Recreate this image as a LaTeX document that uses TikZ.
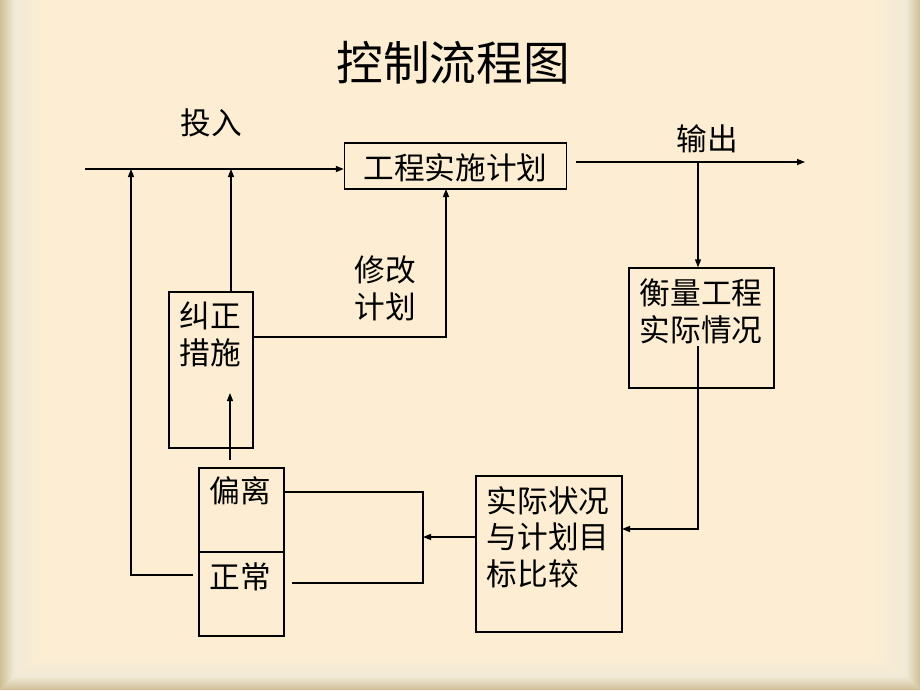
\documentclass[tikz,border=0pt]{standalone}
\usepackage{fontspec}
\setmainfont{Noto Sans CJK SC}
\usetikzlibrary{arrows.meta}
\definecolor{bg}{HTML}{FDEED3}
\definecolor{edgedark}{HTML}{D0BF97}
\definecolor{edgelight}{HTML}{F1EAD6}
\begin{document}
\begin{tikzpicture}[x=0.75pt,y=-0.75pt,
  line width=1pt,
  arr/.style={-{Triangle[length=6pt,width=4.5pt]}},
  box/.style={draw=black,line width=1pt,inner sep=0pt},
  txt/.style={inner sep=0pt,font=\fontsize{23}{27.5}\selectfont},
  ]
% background with bevelled edges
\fill[bg] (0,0) rectangle (920,690);
\shade[left color=edgelight,right color=bg] (14,0) -- (45,0) -- (45,655) -- (14,676) -- cycle;
\shade[right color=edgelight,left color=bg] (906,0) -- (870,0) -- (870,655) -- (906,676) -- cycle;
\shade[bottom color=edgelight,top color=bg] (14,676) -- (45,655) -- (870,655) -- (906,676) -- cycle;
\shade[left color=edgedark,right color=edgelight] (0,0) -- (14,0) -- (14,676) -- (0,690) -- cycle;
\shade[right color=edgedark,left color=edgelight] (920,0) -- (906,0) -- (906,676) -- (920,690) -- cycle;
\shade[bottom color=edgedark,top color=edgelight] (0,690) -- (14,676) -- (906,676) -- (920,690) -- cycle;
\useasboundingbox (0,0) rectangle (920,690);

% title and labels
\node[inner sep=0pt,font=\fontsize{35}{40}\selectfont] (title) at (453,63) {控制流程图};
\node[txt] (inLbl) at (211,123) {投入};
\node[txt] (outLbl) at (707,139) {输出};
\node[txt,align=center] (modLbl) at (385,288.5) {修改\\计划};

% boxes (sizes in pt = px * 0.75)
\node[box,minimum width=166.5pt,minimum height=34.5pt] (plan) at (455.5,166) {};
\node[txt] (planT) at (455.5,168) {工程实施计划};

\node[box,minimum width=108.75pt,minimum height=90pt] (measure) at (701.5,328) {};
\node[txt,align=center] (measureT) at (701,311.5) {衡量工程\\实际情况};

\node[box,minimum width=109.5pt,minimum height=117pt] (compare) at (549,554) {};
\node[txt,align=left,anchor=west] (compareT) at (486,537) {实际状况\\与计划目\\标比较};

\node[box,minimum width=63pt,minimum height=117pt] (corr) at (211,370) {};
\node[txt,align=center] (corrT) at (210,334.5) {纠正\\措施};

\node[box,minimum width=63.75pt,minimum height=63pt] (dev) at (241.5,510) {};
\node[txt] (devT) at (240,491) {偏离};
\node[box,minimum width=63.75pt,minimum height=63pt] (norm) at (241.5,594) {};
\node[txt] (normT) at (240,577) {正常};

% coordinates
\coordinate (inStart) at (85,169);
\coordinate (outStart) at (576,162);
\coordinate (outEnd) at (805,162);
\coordinate (outTap) at (698,162);
\coordinate (mDown) at (698,346);
\coordinate (cmpIn) at (622,529);
\coordinate (cmpOut) at (476,537);
\coordinate (junc) at (423,537);
\coordinate (jTop) at (423,492);
\coordinate (jBot) at (423,583);
\coordinate (normR) at (292,583);
\coordinate (normL) at (193,575);
\coordinate (fbCorner) at (131,575);
\coordinate (fbTop) at (131,169);
\coordinate (devUp) at (230,460);
\coordinate (corrIn) at (230,393);
\coordinate (corrUp) at (231,292);
\coordinate (corrTop) at (231,169);
\coordinate (corrR) at (253,337);
\coordinate (planIn) at (446,189);

% connectors
\draw[arr] (inStart) -- (plan.west |- inStart);
\draw[arr] (outStart) -- (outEnd);
\draw[arr] (outTap) -- (measure.north -| outTap);
\draw[arr] (mDown) |- (cmpIn);
\draw[arr] (cmpOut) -- (junc);
\draw (dev.east |- jTop) -- (jTop) -- (jBot) -- (normR);
\draw[arr] (normL) -- (fbCorner) -- (fbTop);
\draw[arr] (devUp) -- (corrIn);
\draw[arr] (corrUp) -- (corrTop);
\draw[arr] (corrR) -| (planIn);
\end{tikzpicture}
\end{document}
